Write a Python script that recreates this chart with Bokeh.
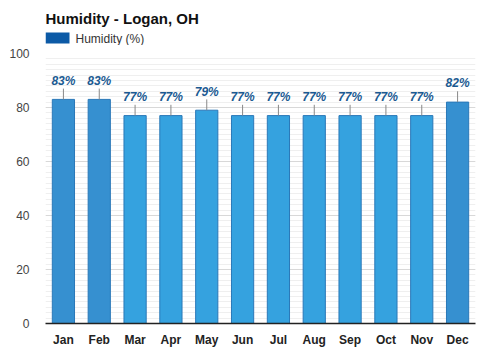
from bokeh.plotting import figure
from bokeh.layouts import column
from bokeh.models import ColumnDataSource, FixedTicker
from bokeh.core.properties import value
from bokeh.embed import file_html
from bokeh.resources import INLINE

title_text = "Humidity - Logan, OH"
series_name = "Humidity (%)"
months = ["Jan", "Feb", "Mar", "Apr", "May", "Jun", "Jul", "Aug", "Sep", "Oct", "Nov", "Dec"]
humidity = [83, 83, 77, 77, 79, 77, 77, 77, 77, 77, 77, 82]
bar_colors = ["#3690d0", "#3690d0", "#35a2df", "#35a2df", "#35a2df", "#35a2df",
              "#35a2df", "#35a2df", "#35a2df", "#35a2df", "#35a2df", "#3690d0"]
labels = [f"{v}%" for v in humidity]
y_ticks = [0, 20, 40, 60, 80, 100]
y_minor = list(range(0, 101, 2))

# ---- header (title + legend); column layout aligns its frame with the chart frame (45..475)
h = figure(width=500, height=45, x_range=(45, 475), y_range=(45, 0),
           output_backend="svg", toolbar_location=None,
           x_axis_location=None, y_axis_location=None,
           min_border_left=45, min_border_right=25, min_border_top=0, min_border_bottom=0)
h.grid.visible = False
h.outline_line_color = None
h.background_fill_color = "white"
h.border_fill_color = "white"
h.text(x=[45], y=[18], text=[title_text], text_baseline="middle",
       text_font=value("Liberation Sans"), text_font_style="bold",
       text_font_size="15px", text_color="#111111")
h.quad(left=[45], right=[69], top=[32], bottom=[43], fill_color="#0c5aa6", line_color=None)
h.text(x=[75], y=[38], text=[series_name], text_baseline="middle",
       text_font=value("Liberation Sans"), text_font_size="12px", text_color="#333333")

# ---- main chart ----
src = ColumnDataSource(dict(
    m=months, v=humidity, c=bar_colors, lab=labels,
    lt=[v + 4 for v in humidity], ty=[v + 4.3 for v in humidity],
))

p = figure(width=500, height=305, x_range=months, y_range=(0, 100),
           output_backend="svg", toolbar_location=None,
           min_border_left=45, min_border_right=25, min_border_top=8, min_border_bottom=27)
p.outline_line_color = None
p.background_fill_color = "white"
p.border_fill_color = "white"

p.xgrid.grid_line_color = None
p.ygrid.grid_line_color = "#d8d8d8"
p.ygrid.minor_grid_line_color = "#efefef"
p.yaxis.ticker = FixedTicker(ticks=y_ticks, minor_ticks=y_minor)
p.ygrid.ticker = p.yaxis.ticker
p.yaxis.axis_line_color = None
p.yaxis.major_tick_line_color = None
p.yaxis.minor_tick_line_color = None
p.yaxis.major_label_text_font = "Liberation Sans"
p.yaxis.major_label_text_font_size = "12px"
p.yaxis.major_label_text_color = "#444444"
p.yaxis.major_label_standoff = 10

p.xaxis.axis_line_color = "#222222"
p.xaxis.axis_line_width = 1.5
p.xaxis.major_tick_line_color = None
p.xaxis.minor_tick_line_color = None
p.xaxis.major_label_text_font = "Liberation Sans"
p.xaxis.major_label_text_font_style = "bold"
p.xaxis.major_label_text_font_size = "12px"
p.xaxis.major_label_text_color = "#222222"
p.xaxis.major_label_standoff = 3

p.vbar(x="m", top="v", width=0.62, source=src, fill_color="c",
       line_color="#2a78b8", line_width=1)
p.segment(x0="m", y0="v", x1="m", y1="lt", source=src, line_color="#888888", line_width=1)
p.text(x="m", y="ty", text="lab", source=src, text_align="center", text_baseline="bottom",
       text_font=value("Liberation Sans"), text_font_style="bold italic",
       text_font_size="12px", text_color="#1b5a92")

layout = column(h, p, spacing=0)
open("out.html", "w").write(file_html(layout, INLINE))
